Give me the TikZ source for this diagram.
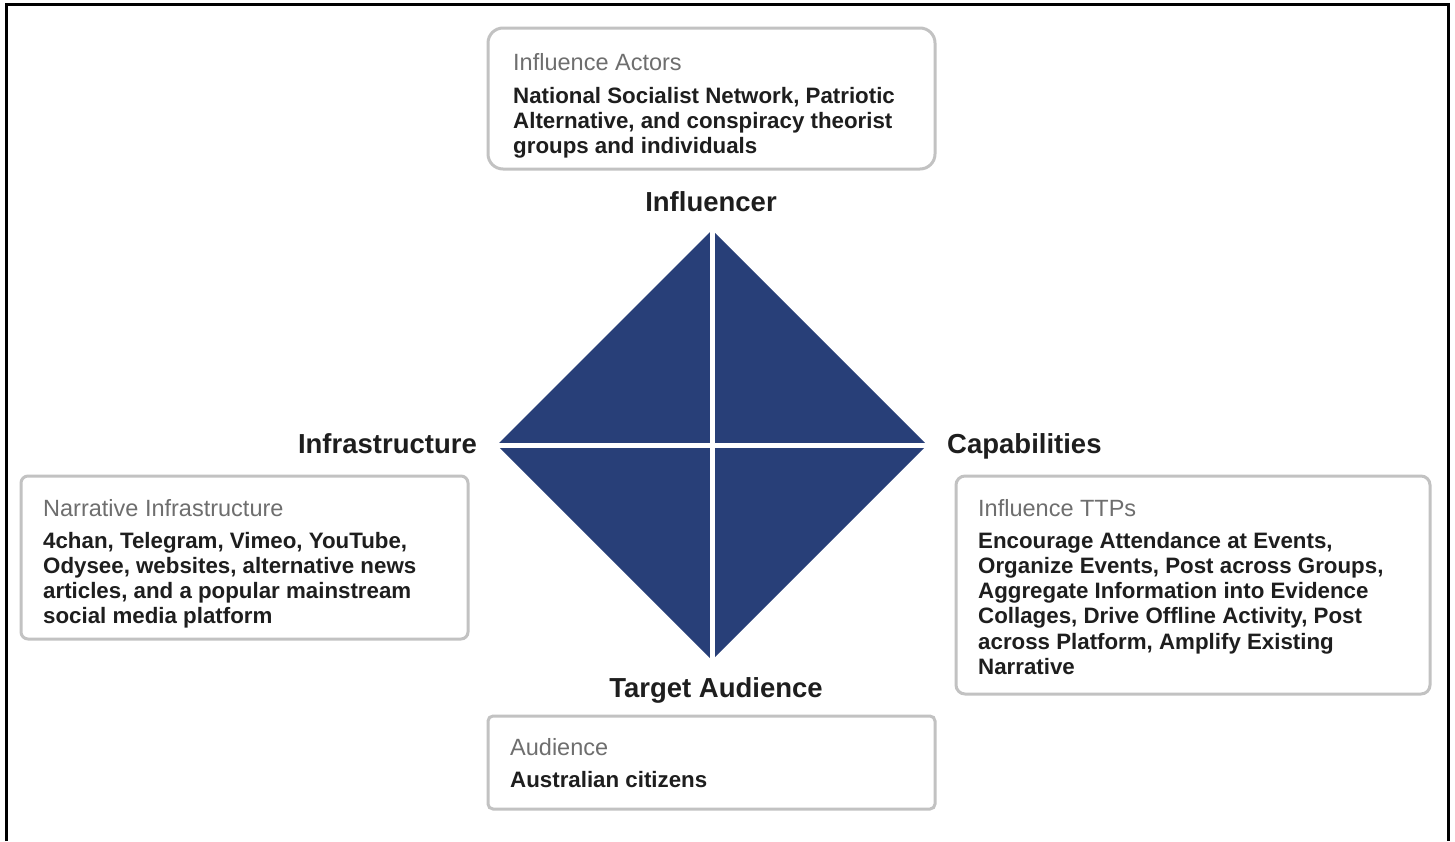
\documentclass[tikz,border=0pt]{standalone}
\usepackage{fontspec}
\setmainfont{Liberation Sans}
\definecolor{navy}{HTML}{283F78}
\definecolor{boxgray}{HTML}{C2C2C2}
\definecolor{headgray}{HTML}{6E6E6E}
\definecolor{bodyblack}{HTML}{1E1E1E}
\begin{document}
\begin{tikzpicture}[x=1pt,y=-1pt,
  infobox/.style={draw=boxgray, line width=3pt, fill=white},
  headtxt/.style={anchor=base west, inner sep=0pt, text=headgray, font=\fontsize{23.5}{25.3}\selectfont},
  bodytxt/.style={anchor=base west, inner sep=0pt, align=left, text=bodyblack, font=\fontsize{22.3}{25.3}\selectfont\bfseries},
  titletxt/.style={inner sep=0pt, text=bodyblack, font=\fontsize{27.5}{30}\selectfont\bfseries}]
\useasboundingbox (0,0) rectangle (1455,841);
% frame
\draw[line width=3pt] (6,841) -- (6,4) -- (1448,4) -- (1448,841);
% diamond
\coordinate (c) at (712,445);
\fill[navy] (712,230) -- (927,445) -- (712,660) -- (497,445) -- cycle;
\draw[white, line width=5pt] (712,222) -- (712,668);
\draw[white, line width=5pt] (490,445) -- (934,445);
% titles
\node[titletxt, anchor=base] (tinf) at (711,211) {Influencer};
\node[titletxt, anchor=base east] (tinfra) at (477,453) {Infrastructure};
\node[titletxt, anchor=base west] (tcap) at (947,453) {Capabilities};
\node[titletxt, anchor=base] (ttar) at (716,697) {Target Audience};
% top box
\draw[infobox, rounded corners=15pt] (488,28) rectangle (935,169);
\node[headtxt] (h1) at (513,70) {Influence Actors};
\node[bodytxt] (b1) at (513,153.6) {National Socialist Network, Patriotic\\Alternative, and conspiracy theorist\\groups and individuals};
% left box
\draw[infobox, rounded corners=7pt] (21,476) rectangle (468,639);
\node[headtxt] (h2) at (43,516) {Narrative Infrastructure};
\node[bodytxt] (b2) at (43,623.9) {4chan, Telegram, Vimeo, YouTube,\\Odysee, websites, alternative news\\articles, and a popular mainstream\\social media platform};
% right box
\draw[infobox, rounded corners=9pt] (956,476) rectangle (1430,694);
\node[headtxt] (h3) at (978,516) {Influence TTPs};
\node[bodytxt] (b3) at (978,674.5) {Encourage Attendance at Events,\\Organize Events, Post across Groups,\\Aggregate Information into Evidence\\Collages, Drive Offline Activity, Post\\across Platform, Amplify Existing\\Narrative};
% bottom box
\draw[infobox, rounded corners=5pt] (488,716) rectangle (935,809);
\node[headtxt] (h4) at (510,755) {Audience};
\node[bodytxt] (b4) at (510,787) {Australian citizens};
\end{tikzpicture}
\end{document}
